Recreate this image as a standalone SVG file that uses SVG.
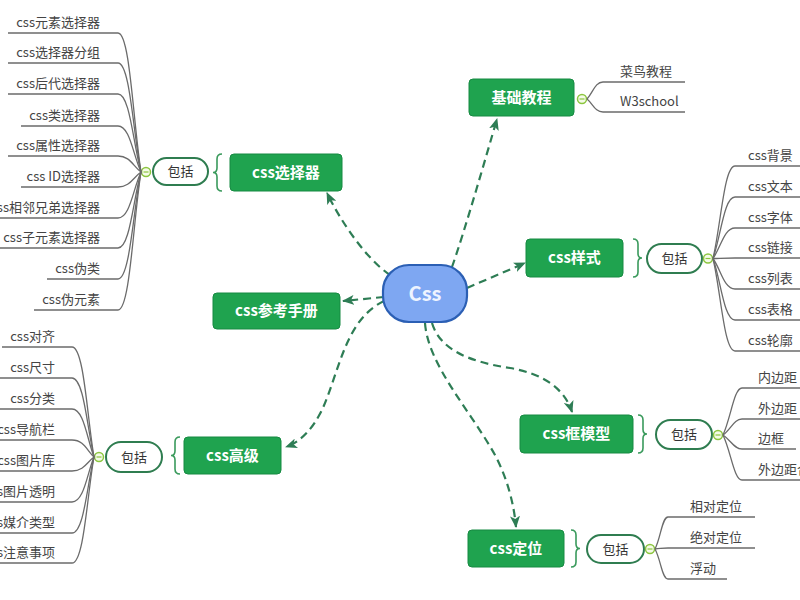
<svg xmlns="http://www.w3.org/2000/svg" width="800" height="600" viewBox="0 0 800 600">
<defs>
<style>
text{font-family:"Noto Sans CJK SC","Noto Sans",sans-serif}
.node rect{fill:#1fa34f;stroke:#178a42;stroke-width:1}
.node text{fill:#fff;font-size:15px;font-weight:bold;text-anchor:middle}
.pill rect{fill:#fff;stroke:#2f7d50;stroke-width:2}
.pill text{fill:#333;font-size:13px;text-anchor:middle}
.brace{fill:none;stroke:#3a9a5c;stroke-width:1.6}
.jn{fill:#f4fbe8;stroke:#8cc63f;stroke-width:1.5}
.jl{stroke:#8cc63f;stroke-width:1.2}
.fan{fill:none;stroke:#6b6b6b;stroke-width:1.3}
.item{fill:#444;font-size:13px}
.l{text-anchor:end}
.conn{fill:none;stroke:#2e7d55;stroke-width:2.2;stroke-dasharray:8 5;marker-end:url(#arr)}
</style>
<marker id="arr" viewBox="0 0 12 10" refX="11" refY="5" markerWidth="12" markerHeight="10" markerUnits="userSpaceOnUse" orient="auto">
<path d="M0,0 L12,5 L0,10 L3,5 z" fill="#2e7d55"/>
</marker>
</defs>
<rect width="800" height="600" fill="#fff"/>

<g id="connectors">
<path class="conn" d="M452 267 C465 230 485 160 497 119"/>
<path class="conn" d="M390 275 C365 258 340 220 327 193"/>
<path class="conn" d="M384 297 L343 301"/>
<path class="conn" d="M384 301 C345 320 340 370 322 410 C312 430 300 442 286 447"/>
<path class="conn" d="M467 288 L525 263"/>
<path class="conn" d="M432 323 C440 350 470 362 510 368 C545 374 565 390 572 412"/>
<path class="conn" d="M425 323 C428 365 470 410 495 455 C508 480 514 505 516 527"/>
</g>

<g id="center">
<rect x="383" y="265" width="84" height="57" rx="26" fill="#7ea7f2" stroke="#2b5fb4" stroke-width="2.2"/>
<text x="425" y="301" font-size="20" font-weight="bold" fill="#eef4ff" text-anchor="middle">Css</text>
</g>

<g id="basic" class="node">
<rect x="469" y="79" width="105" height="37" rx="4"/>
<text x="521.5" y="103">基础教程</text>
</g>
<g id="basic-children">
<circle class="jn" cx="582" cy="99" r="4.5"/><line class="jl" x1="579.5" y1="99" x2="584.5" y2="99"/>
<path class="fan" d="M587 99 C593 92.7 595 82 603 82 H685"/>
<path class="fan" d="M587 99 C593 103.8 595 112 603 112 H685"/>
<text class="item" x="620" y="76">菜鸟教程</text>
<text class="item" x="620" y="106">W3school</text>
</g>

<g id="selector" class="node">
<rect x="230" y="154" width="112" height="37" rx="4"/>
<text x="286" y="178">css选择器</text>
</g>
<g id="selector-children">
<path class="brace" d="M222 154 Q217 154 217 159 V168 Q217 172.5 213 172.5 Q217 172.5 217 177 V186 Q217 191 222 191"/>
<g class="pill"><rect x="153" y="158" width="55" height="27" rx="13.5"/><text x="180.5" y="176">包括</text></g>
<circle class="jn" cx="146" cy="172" r="4.5"/><line class="jl" x1="143.5" y1="172" x2="148.5" y2="172"/>
<path class="fan" d="M8 33 H118 C130 33 133 120.6 141 172"/>
<path class="fan" d="M8 63 H118 C130 63 133 131.7 141 172"/>
<path class="fan" d="M8 94 H118 C130 94 133 143.1 141 172"/>
<path class="fan" d="M21 126 H118 C130 126 133 155 141 172"/>
<path class="fan" d="M8 156 H118 C130 156 133 166.1 141 172"/>
<path class="fan" d="M21 187 H118 C130 187 133 177.6 141 172"/>
<path class="fan" d="M0 218 H118 C130 218 133 189 141 172"/>
<path class="fan" d="M0 248 H118 C130 248 133 200.1 141 172"/>
<path class="fan" d="M47 279 H118 C130 279 133 211.6 141 172"/>
<path class="fan" d="M34 310 H118 C130 310 133 223.1 141 172"/>
<text class="item l" x="100" y="27">css元素选择器</text>
<text class="item l" x="100" y="57">css选择器分组</text>
<text class="item l" x="100" y="88">css后代选择器</text>
<text class="item l" x="100" y="120">css类选择器</text>
<text class="item l" x="100" y="150">css属性选择器</text>
<text class="item l" x="100" y="181">css ID选择器</text>
<text class="item l" x="100" y="212">css相邻兄弟选择器</text>
<text class="item l" x="100" y="242">css子元素选择器</text>
<text class="item l" x="100" y="273">css伪类</text>
<text class="item l" x="100" y="304">css伪元素</text>
</g>

<g id="reference" class="node">
<rect x="213" y="293" width="127" height="36" rx="4"/>
<text x="276.5" y="316">css参考手册</text>
</g>

<g id="advanced" class="node">
<rect x="184" y="437" width="97" height="37" rx="4"/>
<text x="232.5" y="461">css高级</text>
</g>
<g id="advanced-children">
<path class="brace" d="M180 437 Q175 437 175 442 V451 Q175 455.5 171 455.5 Q175 455.5 175 460 V469 Q175 474 180 474"/>
<g class="pill"><rect x="106" y="442" width="56" height="30" rx="15"/><text x="134" y="461.5">包括</text></g>
<circle class="jn" cx="99" cy="457" r="4.5"/><line class="jl" x1="96.5" y1="457" x2="101.5" y2="457"/>
<path class="fan" d="M2 347 H72 C84 347 87 416.3 94 457"/>
<path class="fan" d="M0 378 H72 C84 378 87 427.8 94 457"/>
<path class="fan" d="M0 409 H72 C84 409 87 439.2 94 457"/>
<path class="fan" d="M0 440 H72 C84 440 87 450.7 94 457"/>
<path class="fan" d="M0 471 H72 C84 471 87 462.2 94 457"/>
<path class="fan" d="M0 502 H72 C84 502 87 473.7 94 457"/>
<path class="fan" d="M0 533 H72 C84 533 87 485.1 94 457"/>
<path class="fan" d="M0 563 H72 C84 563 87 496.2 94 457"/>
<text class="item l" x="55" y="341">css对齐</text>
<text class="item l" x="55" y="372">css尺寸</text>
<text class="item l" x="55" y="403">css分类</text>
<text class="item l" x="55" y="434">css导航栏</text>
<text class="item l" x="55" y="465">css图片库</text>
<text class="item l" x="55" y="496">css图片透明</text>
<text class="item l" x="55" y="527">css媒介类型</text>
<text class="item l" x="55" y="557">css注意事项</text>
</g>

<g id="style" class="node">
<rect x="526" y="239" width="97" height="38" rx="4"/>
<text x="574.5" y="263">css样式</text>
</g>
<g id="style-children">
<path class="brace" d="M633 239 Q638 239 638 244 V253.5 Q638 258 642 258 Q638 258 638 262.5 V272 Q638 277 633 277"/>
<g class="pill"><rect x="647" y="244" width="55" height="29" rx="14.5"/><text x="674.5" y="263">包括</text></g>
<circle class="jn" cx="708" cy="258.5" r="4.5"/><line class="jl" x1="705.5" y1="258.5" x2="710.5" y2="258.5"/>
<path class="fan" d="M713 258.5 C721 224.3 724 166 735 166 H800"/>
<path class="fan" d="M713 258.5 C721 235.7 724 197 735 197 H800"/>
<path class="fan" d="M713 258.5 C721 247.2 724 228 735 228 H800"/>
<path class="fan" d="M713 258.5 C721 258.3 724 258 735 258 H800"/>
<path class="fan" d="M713 258.5 C721 269.8 724 289 735 289 H800"/>
<path class="fan" d="M713 258.5 C721 281.3 724 320 735 320 H800"/>
<path class="fan" d="M713 258.5 C721 292.7 724 351 735 351 H800"/>
<text class="item" x="748" y="160">css背景</text>
<text class="item" x="748" y="191">css文本</text>
<text class="item" x="748" y="222">css字体</text>
<text class="item" x="748" y="252">css链接</text>
<text class="item" x="748" y="283">css列表</text>
<text class="item" x="748" y="314">css表格</text>
<text class="item" x="748" y="345">css轮廓</text>
</g>

<g id="boxmodel" class="node">
<rect x="520" y="415" width="113" height="38" rx="4"/>
<text x="576.5" y="439">css框模型</text>
</g>
<g id="boxmodel-children">
<path class="brace" d="M638 415 Q643 415 643 420 V429.5 Q643 434 647 434 Q643 434 643 438.5 V448 Q643 453 638 453"/>
<g class="pill"><rect x="656" y="420" width="56" height="29" rx="14.5"/><text x="684" y="439">包括</text></g>
<circle class="jn" cx="718" cy="435" r="4.5"/><line class="jl" x1="715.5" y1="435" x2="720.5" y2="435"/>
<path class="fan" d="M723 435 C731 417.6 734 388 742 388 H800"/>
<path class="fan" d="M723 435 C731 429.1 734 419 742 419 H800"/>
<path class="fan" d="M723 435 C731 440.2 734 449 742 449 H796"/>
<path class="fan" d="M723 435 C731 451.7 734 480 742 480 H800"/>
<text class="item" x="758" y="382">内边距</text>
<text class="item" x="758" y="413">外边距</text>
<text class="item" x="758" y="443">边框</text>
<text class="item" x="758" y="474">外边距合并</text>
</g>

<g id="position" class="node">
<rect x="468" y="530" width="96" height="37" rx="4"/>
<text x="516" y="554">css定位</text>
</g>
<g id="position-children">
<path class="brace" d="M571 530 Q576 530 576 535 V544 Q576 548.5 580 548.5 Q576 548.5 576 553 V562 Q576 567 571 567"/>
<g class="pill"><rect x="587" y="535" width="57" height="28" rx="14"/><text x="615.5" y="553.5">包括</text></g>
<circle class="jn" cx="650" cy="549" r="4.5"/><line class="jl" x1="647.5" y1="549" x2="652.5" y2="549"/>
<path class="fan" d="M655 549 C661 537.2 662 517 668 517 H755"/>
<path class="fan" d="M655 549 C661 548.6 662 548 668 548 H755"/>
<path class="fan" d="M655 549 C661 560.1 662 579 668 579 H727"/>
<text class="item" x="690" y="511">相对定位</text>
<text class="item" x="690" y="542">绝对定位</text>
<text class="item" x="690" y="573">浮动</text>
</g>
</svg>
